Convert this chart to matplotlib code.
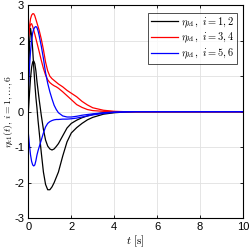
import matplotlib
matplotlib.use('Agg')
import matplotlib.pyplot as plt

plt.rcParams['font.family'] = ['Liberation Sans', 'DejaVu Sans']
plt.rcParams['mathtext.fontset'] = 'cm'
plt.rcParams['axes.unicode_minus'] = False

# time samples [s]
t = [0, 0.05, 0.1, 0.15, 0.2, 0.25, 0.3, 0.35, 0.4, 0.45, 0.5, 0.6, 0.7, 0.8, 0.9,
     1.0, 1.1, 1.2, 1.3, 1.4, 1.6, 1.8, 2.0, 2.25, 2.5, 2.75, 3.0, 3.5, 4.0, 4.5,
     5.0, 6.0, 8.0, 10.0]

# i = 1, 2 (black)
eta_1 = [0.4, 1.9, 2.35, 2.15, 1.75, 1.25, 0.8, 0.4, 0.1, -0.25, -0.55, -1.15, -1.7, -2.05, -2.2,
         -2.2, -2.12, -2.0, -1.85, -1.7, -1.25, -0.85, -0.6, -0.45, -0.33, -0.23, -0.16, -0.07, -0.03, -0.01,
         0, 0, 0, 0]
eta_2 = [0.0, 0.5, 0.95, 1.25, 1.4, 1.43, 1.35, 1.15, 0.85, 0.6, 0.35, -0.1, -0.5, -0.8, -0.97,
         -1.05, -1.08, -1.05, -0.98, -0.9, -0.68, -0.46, -0.33, -0.24, -0.17, -0.12, -0.08, -0.03, -0.01, 0,
         0, 0, 0, 0]
# i = 3, 4 (red)
eta_3 = [2.05, 2.4, 2.62, 2.72, 2.76, 2.76, 2.7, 2.6, 2.5, 2.4, 2.3, 2.05, 1.75, 1.4, 1.15,
         1.0, 0.93, 0.88, 0.83, 0.78, 0.7, 0.6, 0.52, 0.42, 0.29, 0.19, 0.11, 0.04, 0.01, 0,
         0, 0, 0, 0]
eta_4 = [2.1, 2.35, 2.46, 2.48, 2.4, 2.3, 2.18, 2.06, 1.94, 1.82, 1.7, 1.45, 1.22, 1.03, 0.9,
         0.82, 0.77, 0.73, 0.7, 0.66, 0.56, 0.45, 0.34, 0.2, 0.12, 0.06, 0.03, 0.01, 0, 0,
         0, 0, 0, 0]
# i = 5, 6 (blue)
eta_5 = [0.68, 1.25, 1.7, 2.02, 2.22, 2.33, 2.38, 2.4, 2.37, 2.28, 2.15, 1.85, 1.5, 1.1, 0.8,
         0.56, 0.36, 0.18, 0.06, -0.03, -0.12, -0.15, -0.15, -0.13, -0.1, -0.08, -0.06, -0.03, -0.01, 0,
         0, 0, 0, 0]
eta_6 = [-0.62, -0.95, -1.22, -1.4, -1.5, -1.53, -1.5, -1.38, -1.22, -1.1, -1.0, -0.8, -0.6, -0.43, -0.33,
         -0.28, -0.25, -0.23, -0.22, -0.22, -0.21, -0.21, -0.2, -0.18, -0.15, -0.12, -0.09, -0.05, -0.02, -0.01,
         0, 0, 0, 0]

fig = plt.figure(figsize=(2.49, 2.49), dpi=100)
ax = fig.add_axes([0.114, 0.124, 0.862, 0.855])

lw = 0.9
ax.plot(t, eta_1, color='k', lw=lw, label=r'$\eta_{k1},\ i=1,2$')
ax.plot(t, eta_2, color='k', lw=lw)
ax.plot(t, eta_3, color='r', lw=lw, label=r'$\eta_{k1},\ i=3,4$')
ax.plot(t, eta_4, color='r', lw=lw)
ax.plot(t, eta_5, color='b', lw=lw, label=r'$\eta_{k1},\ i=5,6$')
ax.plot(t, eta_6, color='b', lw=lw)

ax.set_xlim(0, 10)
ax.set_ylim(-3, 3)
ax.set_xticks([0, 2, 4, 6, 8, 10])
ax.set_yticks([-3, -2, -1, 0, 1, 2, 3])
ax.grid(True, color='#e1e1e1', lw=0.6)
ax.set_axisbelow(True)
ax.tick_params(direction='in', length=2.5, width=0.6, labelsize=8, top=True, right=True, pad=3)
for s in ax.spines.values():
    s.set_linewidth(0.8)

ax.set_xlabel(r'$t\ [\mathrm{s}]$', fontsize=8, labelpad=1)
ax.set_ylabel(r'$\eta_{k1}(t),\, i=1,\ldots,6$', fontsize=7, labelpad=0)
ax.yaxis.set_label_coords(-0.064, 0.5)

leg = ax.legend(loc='upper right', bbox_to_anchor=(0.97, 0.965), fontsize=7.5, frameon=True,
                fancybox=False, handlelength=2.6, handletextpad=0.3, borderpad=0.25,
                labelspacing=0.15, borderaxespad=0)
leg.get_frame().set_edgecolor('k')
leg.get_frame().set_linewidth(0.6)

fig.savefig('out.png', dpi=100)
